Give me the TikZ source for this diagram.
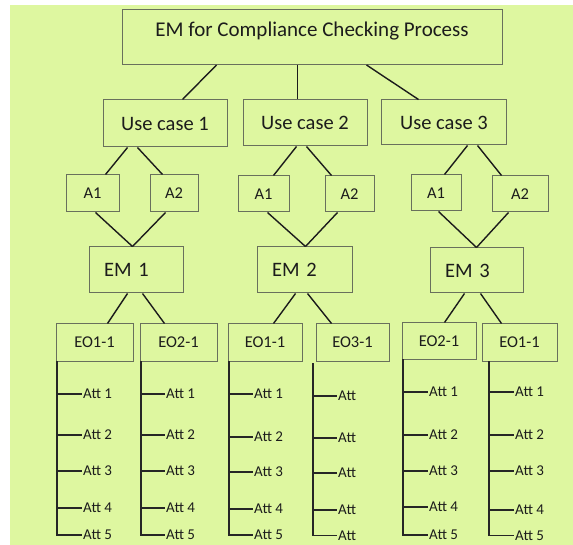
\documentclass[tikz,border=0pt]{standalone}
\usepackage{fontspec}
\setmainfont{Carlito}
\usetikzlibrary{calc}
\definecolor{bgc}{RGB}{222,247,160}
\definecolor{boxc}{RGB}{105,112,92}
\definecolor{ink}{RGB}{28,28,28}

% one attribute column: name, x of spine, y of spine top, x of tick end, k/y list, label
\newcommand{\attcolumn}[6]{%
  \coordinate (#1t) at (#2,#3);
  \foreach \k/\yy in {#5} {\node[att] (#1a\k) at (#4,\yy) {#6};}
  \draw[tree] (#1t) |- (#1a5.west);
  \foreach \k in {1,...,4} {\draw[tree] (#1t |- #1a\k.west) -- (#1a\k.west);}
}

\begin{document}
\begin{tikzpicture}[x=1pt,y=-1pt,
  box/.style={draw=boxc, line width=1pt, inner sep=0pt, text=ink},
  big/.style={font=\fontsize{20.5}{24}\selectfont},
  small/.style={font=\fontsize{16.5}{20}\selectfont},
  embox/.style={box, big, align=left, inner xsep=15pt, minimum height=46pt},
  link/.style={draw=ink, line width=1.4pt},
  tree/.style={draw=black!85, line width=1.8pt},
  att/.style={anchor=west, inner sep=1pt, text=ink, font=\fontsize{15}{18}\selectfont}]
\useasboundingbox (0,0) rectangle (573,545);
\fill[bgc] (10,5) rectangle (573,545);

% root
\node[box, anchor=north, minimum width=380pt, text height=26.3pt, text depth=28.2pt,
      font=\fontsize{21}{25}\selectfont] (top) at (312,9.5) {EM for Compliance Checking Process};

% use cases
\node[box, big, minimum width=124pt, minimum height=47pt] (uc1) at (165,123.5) {Use case 1};
\node[box, big, minimum width=124pt, minimum height=46pt] (uc2) at (305,123) {Use case 2};
\node[box, big, minimum width=125pt, minimum height=45pt] (uc3) at (444,122.5) {Use case 3};

% actors
\node[box, small, minimum width=53pt, minimum height=37pt] (a11) at (92.5,193.5) {A1};
\node[box, small, minimum width=48pt, minimum height=37pt] (a12) at (174,193.5) {A2};
\node[box, small, minimum width=51pt, minimum height=36pt] (a21) at (263.5,194) {A1};
\node[box, small, minimum width=49pt, minimum height=36pt] (a22) at (349.5,194) {A2};
\node[box, small, minimum width=50pt, minimum height=36pt] (a31) at (436,193) {A1};
\node[box, small, minimum width=56pt, minimum height=36pt] (a32) at (520,194) {A2};

% enterprise models
\node[embox, text width=64pt] (em1) at (136,270) {EM 1};
\node[embox, text width=65pt] (em2) at (304.5,270) {EM 2};
\node[embox, text width=63pt, minimum height=45pt] (em3) at (476.5,270.5) {EM 3};

% enterprise objects
\node[box, small, minimum width=77pt, minimum height=37pt] (eo1) at (94.5,342.5) {EO1-1};
\node[box, small, minimum width=77pt, minimum height=37pt] (eo2) at (178.5,342.5) {EO2-1};
\node[box, small, minimum width=74pt, minimum height=37pt] (eo3) at (265,342.5) {EO1-1};
\node[box, small, minimum width=73pt, minimum height=37pt] (eo4) at (352.5,342.5) {EO3-1};
\node[box, small, minimum width=74pt, minimum height=36pt] (eo5) at (439,341) {EO2-1};
\node[box, small, minimum width=75pt, minimum height=37pt] (eo6) at (519.5,342.5) {EO1-1};

% root to use cases
\draw[link] ($(top.south west)+(95,0)$) -- ($(uc1.north west)+(80,0)$);
\draw[link] ($(top.south west)+(176,0)$) -- ($(uc2.north west)+(55,0)$);
\draw[link] ($(top.south west)+(245,0)$) -- ($(uc3.north west)+(37.5,0)$);

% use cases to actors
\draw[link] ($(uc1.south west)+(25,0)$) -- ($(a11.north west)+(40,0)$);
\draw[link] ($(uc1.south west)+(35,0)$) -- ($(a12.north west)+(13,0)$);
\draw[link] ($(uc2.south west)+(54,0)$) -- ($(a21.north west)+(36,0)$);
\draw[link] ($(uc2.south west)+(64,0)$) -- ($(a22.north west)+(7,0)$);
\draw[link] ($(uc3.south west)+(86.5,0)$) -- ($(a31.north west)+(34,0)$);
\draw[link] ($(uc3.south west)+(96.5,0)$) -- ($(a32.north west)+(10,0)$);

% actors to models
\draw[link] ($(a11.south west)+(30,0)$) -- ($(em1.north west)+(44,0)$);
\draw[link] ($(a12.south west)+(16,0)$) -- ($(em1.north west)+(44,0)$);
\draw[link] ($(a21.south west)+(30,0)$) -- ($(em2.north west)+(49,0)$);
\draw[link] ($(a22.south west)+(13,0)$) -- ($(em2.north west)+(49,0)$);
\draw[link] ($(a31.south west)+(28,0)$) -- ($(em3.north west)+(47,0)$);
\draw[link] ($(a32.south west)+(17,0)$) -- ($(em3.north west)+(47,0)$);

% models to objects
\draw[link] ($(em1.south west)+(39,0)$) -- ($(eo1.north west)+(52,0)$);
\draw[link] ($(em1.south west)+(54,0)$) -- ($(eo2.north west)+(25,0)$);
\draw[link] ($(em2.south west)+(39,0)$) -- ($(eo3.north west)+(46,0)$);
\draw[link] ($(em2.south west)+(51,0)$) -- ($(eo4.north west)+(16,0)$);
\draw[link] ($(em3.south west)+(35,0)$) -- ($(eo5.north west)+(43,0)$);
\draw[link] ($(em3.south west)+(51,0)$) -- ($(eo6.north west)+(20,0)$);

% attribute trees
\attcolumn{ca}{57}{361}{82}{1/394,2/435,3/471,4/508,5/535}{Att \k}
\attcolumn{cb}{141}{361}{165}{1/394,2/435,3/471,4/508,5/535}{Att \k}
\attcolumn{cc}{229}{361}{253}{1/394,2/437,3/472,4/509,5/535}{Att \k}
\attcolumn{cd}{313}{363}{337}{1/396,2/438,3/473,4/510,5/535.5}{Att}
\attcolumn{ce}{403}{359}{428}{1/392,2/435,3/471,4/507,5/535}{Att \k}
\attcolumn{cf}{489}{361}{514}{1/392,2/435,3/471,4/510,5/535.5}{Att \k}
\end{tikzpicture}
\end{document}
